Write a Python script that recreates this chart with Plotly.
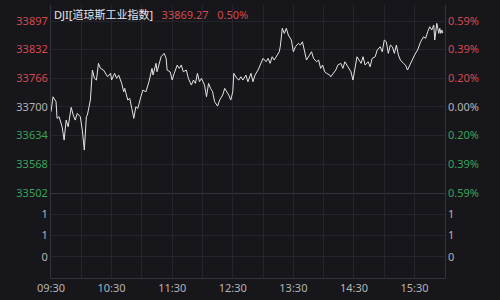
import plotly.graph_objects as go
from plotly.subplots import make_subplots

# ---- data ----
minute = [0, 2, 5, 6, 8, 11, 13, 15, 17, 20, 22, 24, 26, 29, 31, 33, 35, 36, 39, 41,
          43, 45, 47, 49, 52, 54, 56, 59, 60, 63, 65, 67, 70, 72, 73, 76, 78, 80, 82, 84,
          86, 89, 91, 94, 97, 100, 101, 104, 105, 109, 112, 114, 115, 118, 120, 122, 125, 127, 129, 131,
          134, 136, 139, 141, 143, 145, 147, 149, 152, 154, 156, 158, 160, 162, 165, 167, 170, 172, 174, 176,
          178, 180, 181, 184, 186, 188, 190, 193, 195, 198, 200, 202, 205, 208, 210, 213, 215, 217, 219, 221,
          223, 226, 227, 229, 231, 233, 235, 238, 240, 242, 245, 247, 249, 251, 253, 256, 258, 260, 263, 265,
          267, 269, 271, 273, 276, 277, 280, 282, 284, 287, 289, 291, 294, 297, 299, 301, 303, 305, 307, 309,
          311, 314, 316, 318, 321, 323, 326, 328, 330, 332, 334, 336, 338, 340, 342, 344, 346, 349, 351, 353,
          356, 358, 360, 363, 365, 366, 369, 371, 373, 375, 377, 379, 380, 382, 384, 385, 386, 387, 388]
price = [33688.5, 33723.0, 33711.5, 33673.3, 33677.0, 33654.0, 33623.4, 33669.4, 33654.0, 33698.6,
         33680.9, 33669.4, 33684.8, 33677.0, 33646.4, 33600.4, 33677.0, 33680.9, 33715.4, 33784.4,
         33765.3, 33761.4, 33799.8, 33788.3, 33784.4, 33776.8, 33769.0, 33776.8, 33761.4, 33776.8,
         33765.3, 33772.9, 33753.8, 33734.5, 33742.3, 33715.4, 33719.3, 33696.3, 33673.3, 33700.0,
         33696.3, 33723.0, 33738.4, 33734.5, 33757.5, 33788.3, 33772.9, 33799.8, 33780.5, 33815.0,
         33822.8, 33811.3, 33784.4, 33780.5, 33761.4, 33776.8, 33795.9, 33788.3, 33795.9, 33780.5,
         33784.4, 33765.3, 33749.9, 33761.4, 33753.8, 33776.8, 33757.5, 33765.3, 33749.9, 33723.0,
         33753.8, 33742.3, 33734.5, 33711.5, 33701.6, 33715.4, 33726.9, 33742.3, 33734.5, 33726.9,
         33715.4, 33734.5, 33776.8, 33765.3, 33761.4, 33769.0, 33761.4, 33772.9, 33757.5, 33776.8,
         33757.5, 33772.9, 33784.4, 33803.5, 33811.3, 33803.5, 33811.3, 33799.8, 33815.0, 33807.4,
         33815.0, 33826.5, 33838.0, 33880.3, 33868.8, 33880.3, 33864.9, 33853.4, 33826.5, 33838.0,
         33845.8, 33841.9, 33849.5, 33830.4, 33807.4, 33818.9, 33826.5, 33811.3, 33803.5, 33807.4,
         33788.3, 33795.9, 33780.5, 33776.8, 33772.9, 33769.0, 33776.8, 33784.4, 33795.9, 33799.8,
         33788.3, 33803.5, 33792.0, 33780.5, 33761.4, 33788.3, 33815.0, 33807.4, 33799.8, 33815.0,
         33795.9, 33803.5, 33792.0, 33811.3, 33815.0, 33830.4, 33838.0, 33826.5, 33853.4, 33849.5,
         33822.8, 33841.9, 33838.0, 33822.8, 33841.9, 33818.9, 33807.4, 33799.8, 33795.9, 33784.4,
         33799.8, 33807.4, 33818.9, 33830.4, 33841.9, 33849.5, 33861.0, 33857.3, 33872.5, 33884.0,
         33876.4, 33887.9, 33853.4, 33891.8, 33868.8, 33880.3, 33868.8, 33876.4, 33869.27]

symbol = "DJI[道琼斯工业指数]"
last_price = "33869.27"
change_pct = "0.50%"

price_ticks = [33897, 33832, 33766, 33700, 33634, 33568, 33502]
pct_labels = ["0.59%", "0.39%", "0.20%", "0.00%", "0.20%", "0.39%", "0.59%"]
tick_side = ["up", "up", "up", "flat", "down", "down", "down"]
time_ticks = [0, 30, 60, 90, 120, 150, 180, 210, 240, 270, 300, 330, 360, 390]
time_labels = ["09:30", "", "10:30", "", "11:30", "", "12:30", "", "13:30", "", "14:30", "", "15:30", ""]
vol_ticks = [3, 2, 1]
vol_labels = ["1", "1", "0"]

# ---- style ----
BG = "#16161b"
GRID = "#25262d"
BORDER = "#33343b"
RED = "#d44a50"
GREEN = "#3aa35a"
GRAY = "#b4b4b4"
side_color = {"up": RED, "flat": GRAY, "down": GREEN}
FONT = "Noto Sans, Noto Sans CJK SC, sans-serif"

left_text = [f"<span style='color:{side_color[s]}'>{v}</span>" for v, s in zip(price_ticks, tick_side)]
right_text = [f"<span style='color:{side_color[s]}'>{t}</span>" for t, s in zip(pct_labels, tick_side)]

fig = make_subplots(rows=2, cols=1, shared_xaxes=True, vertical_spacing=0,
                    row_heights=[0.689, 0.311],
                    specs=[[{"secondary_y": True}], [{"secondary_y": True}]])

fig.add_trace(go.Scatter(x=minute, y=price, mode="lines",
                         line=dict(color="#e4e4e4", width=1), hoverinfo="skip",
                         showlegend=False), row=1, col=1, secondary_y=False)
fig.add_trace(go.Scatter(x=minute, y=price, mode="lines", line=dict(width=0),
                         opacity=0, hoverinfo="skip", showlegend=False),
              row=1, col=1, secondary_y=True)
fig.add_trace(go.Scatter(x=[], y=[], showlegend=False), row=2, col=1, secondary_y=False)
fig.add_trace(go.Scatter(x=[], y=[], showlegend=False), row=2, col=1, secondary_y=True)

prange = [33501.5, 33934]
vrange = [0, 4]

axis_common = dict(showgrid=True, gridcolor=GRID, gridwidth=1, zeroline=False,
                   showline=True, linecolor=BORDER, linewidth=1,
                   tickfont=dict(family=FONT, size=11, color=GRAY))

fig.update_layout(
    width=500, height=300,
    margin=dict(l=51, r=30, t=5, b=22),
    paper_bgcolor=BG, plot_bgcolor=BG,
    font=dict(family=FONT, size=11, color=GRAY),
    showlegend=False,
)

# x axes
fig.update_xaxes(range=[0, 390], tickmode="array", tickvals=time_ticks, ticktext=time_labels,
                 ticks="", **axis_common)
fig.update_xaxes(showticklabels=False, row=1, col=1)
fig.update_xaxes(showticklabels=True, row=2, col=1)

# price (left) and percent (right)
fig.update_yaxes(range=prange, tickmode="array", tickvals=price_ticks, ticktext=left_text,
                 ticks="", row=1, col=1, secondary_y=False, **axis_common)
fig.update_yaxes(range=prange, tickmode="array", tickvals=price_ticks, ticktext=right_text,
                 ticks="", row=1, col=1, secondary_y=True,
                 **{**axis_common, "showgrid": False})

# volume area (left and right)
fig.update_yaxes(range=vrange, tickmode="array", tickvals=vol_ticks, ticktext=vol_labels,
                 ticks="", row=2, col=1, secondary_y=False, **axis_common)
fig.update_yaxes(range=vrange, tickmode="array", tickvals=vol_ticks, ticktext=vol_labels,
                 ticks="", row=2, col=1, secondary_y=True,
                 **{**axis_common, "showgrid": False})

# title line
NB = "\u00a0"
fig.add_annotation(xref="paper", yref="paper", x=0.003, y=1.0, xanchor="left", yanchor="top",
                   showarrow=False, align="left",
                   text=(f"<span style='color:#e8e8e8'>{symbol}</span>{NB*3}"
                         f"<span style='color:{RED}'>{last_price}{NB*3}{change_pct}</span>"),
                   font=dict(family=FONT, size=11))

fig.write_html("out.html")
